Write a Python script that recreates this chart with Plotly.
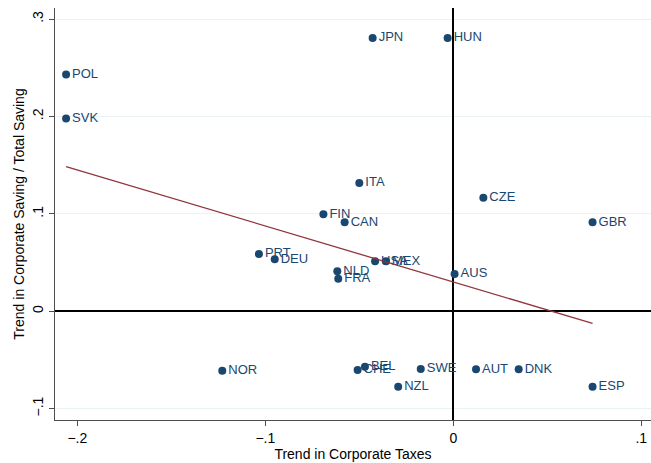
import numpy as np
import plotly.graph_objects as go

# Country trends: corporate taxes (x) vs corporate saving share of total saving (y)
countries = ["POL", "SVK", "JPN", "HUN", "ITA", "CZE", "FIN", "CAN", "GBR",
             "PRT", "DEU", "USA", "MEX", "NLD", "FRA", "AUS", "NOR",
             "BEL", "CHE", "SWE", "AUT", "DNK", "NZL", "ESP"]
tax_trend = [-0.206, -0.206, -0.0429, -0.003, -0.050, 0.016, -0.0691, -0.0578, 0.0741,
             -0.1034, -0.095, -0.0416, -0.0358, -0.0617, -0.0612, 0.0007, -0.1229,
             -0.047, -0.0509, -0.0173, 0.0121, 0.0348, -0.0293, 0.0741]
saving_trend = [0.243, 0.198, 0.2806, 0.2806, 0.1317, 0.1166, 0.0996, 0.0914, 0.0914,
                0.0588, 0.0534, 0.0513, 0.0513, 0.041, 0.0335, 0.0383, -0.061,
                -0.0569, -0.0603, -0.0592, -0.0596, -0.0596, -0.0774, -0.0774]

x_ticks = [-0.2, -0.1, 0, 0.1]
x_tick_text = ["\u2212.2", "\u2212.1", "0", ".1"]
y_ticks = [-0.1, 0, 0.1, 0.2, 0.3]
y_tick_text = ["\u2212.1", "0", ".1", ".2", ".3"]

navy = "#1a476f"
maroon = "#90353b"
font_family = "Liberation Sans, Arial, sans-serif"

# Linear fit over the observed range of x
xs = np.array(tax_trend)
ys = np.array(saving_trend)
slope, intercept = np.polyfit(xs, ys, 1)
fit_x = np.array([xs.min(), xs.max()])
fit_y = intercept + slope * fit_x

fig = go.Figure()
fig.add_trace(go.Scatter(
    x=tax_trend, y=saving_trend, mode="markers+text",
    text=countries, textposition="middle right",
    textfont=dict(family=font_family, size=13, color=navy),
    marker=dict(color=navy, size=8),
    cliponaxis=False, hoverinfo="text", showlegend=False,
))
fig.add_trace(go.Scatter(
    x=fit_x, y=fit_y, mode="lines",
    line=dict(color=maroon, width=1.3), showlegend=False,
))

axis_common = dict(
    showline=True, linecolor="#4d4d4d", linewidth=1,
    ticks="outside", ticklen=5, tickcolor="#4d4d4d", tickwidth=1,
    tickfont=dict(family=font_family, size=14, color="black"),
    zeroline=True, zerolinecolor="black", zerolinewidth=1.5,
    mirror=False,
)

fig.update_xaxes(
    range=[-0.2119, 0.1052], tickvals=x_ticks, ticktext=x_tick_text,
    showgrid=False,
    title=dict(text="Trend in Corporate Taxes", standoff=4,
               font=dict(family=font_family, size=14, color="black")),
    **axis_common,
)
fig.update_yaxes(
    range=[-0.1116, 0.3114], tickvals=y_ticks, ticktext=y_tick_text,
    tickangle=-90,
    showgrid=True, gridcolor="#eaf2f3", gridwidth=1,
    title=dict(text="Trend in Corporate Saving / Total Saving", standoff=2,
               font=dict(family=font_family, size=14, color="black")),
    **axis_common,
)

fig.update_layout(
    width=651, height=463,
    margin=dict(l=55, r=0, t=8, b=43),
    paper_bgcolor="white", plot_bgcolor="white",
    font=dict(family=font_family),
)

fig.write_html("out.html")
